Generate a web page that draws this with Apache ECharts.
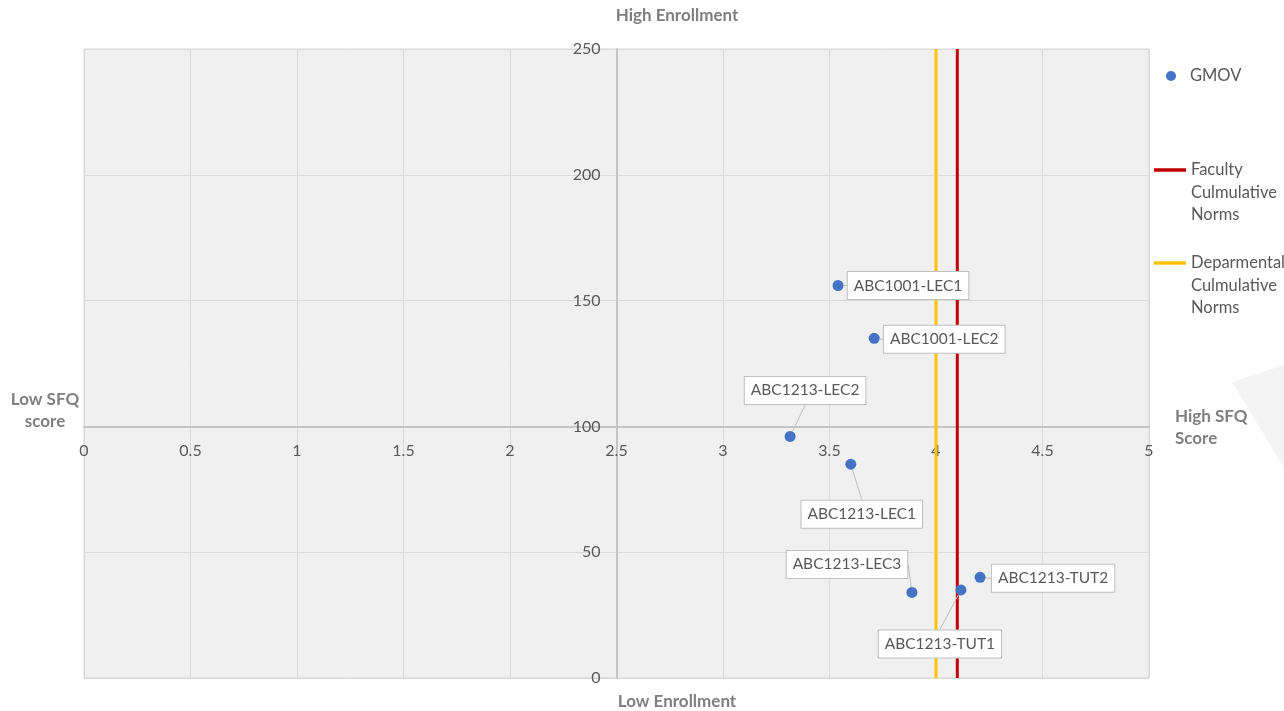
<!DOCTYPE html>
<html>
<head>
<meta charset="utf-8">
<script src="https://cdn.jsdelivr.net/npm/echarts@6/dist/echarts.min.js"></script>
<style>
  html, body { margin: 0; padding: 0; background: #ffffff; }
  #chart { width: 1284px; height: 711px; }
</style>
</head>
<body>
<div id="chart"></div>
<script>
// Course sections: SFQ score (x) against enrollment (y)
const courseCodes = ['ABC1001-LEC1', 'ABC1001-LEC2', 'ABC1213-LEC2', 'ABC1213-LEC1', 'ABC1213-LEC3', 'ABC1213-TUT1', 'ABC1213-TUT2'];
const sfqScores   = [3.54, 3.71, 3.315, 3.60, 3.887, 4.117, 4.207];
const enrollments = [156, 135, 96, 85, 34, 35, 40];

// Reference norms (vertical lines over the full enrollment range)
const facultyNorm = 4.1;
const departmentNorm = 4.0;
const enrollmentRange = [0, 250];

// Axis ticks
const xTicks = [0, 0.5, 1, 1.5, 2, 2.5, 3, 3.5, 4, 4.5, 5];
const yTicks = [0, 50, 100, 150, 200, 250];

const seriesNames = ['GMOV', 'Faculty Culmulative Norms', 'Deparmental Culmulative Norms'];

const FONT = 'Lato, "Liberation Sans", sans-serif';
const TEXT = '#595959';
const TITLE = '#7f7f7f';
const BLUE = '#4472c4', RED = '#c00000', GOLD = '#ffc000';

// Grid geometry in pixels; axes cross at SFQ 2.5 / enrollment 100
const grid = { left: 84, top: 49, width: 1065, height: 629 };
const xCross = 2.5, yCross = 100;
const xMin = xTicks[0], xMax = xTicks[xTicks.length - 1];
const yMin = yTicks[0], yMax = yTicks[yTicks.length - 1];
const yAxisOffset = -(xCross - xMin) / (xMax - xMin) * grid.width;
const xAxisOffset = -(yCross - yMin) / (yMax - yMin) * grid.height;

// Callout shifts for each section label (dx, dy)
const calloutShift = [[70, 0], [70, 1], [15, -46], [11, 50], [-65, -28], [-21, 54], [73, 1]];

const points = courseCodes.map((c, i) => ({ name: c, value: [sfqScores[i], enrollments[i]] }));

const chart = echarts.init(document.getElementById('chart'), null, { renderer: 'canvas' });

const legendText = { fontFamily: FONT, fontSize: 16.5, color: TEXT, lineHeight: 22.5 };
const legendBase = {
  orient: 'vertical',
  padding: 0,
  itemGap: 0,
  selectedMode: false,
  textStyle: legendText
};
const stackedName = n => '\n\n' + n.split(' ').join('\n');

chart.setOption({
  animation: false,
  backgroundColor: '#ffffff',
  textStyle: { fontFamily: FONT },
  grid: {
    left: grid.left, top: grid.top, width: grid.width, height: grid.height,
    show: true, backgroundColor: '#f0f0f0', borderColor: '#d9d9d9', borderWidth: 1
  },
  xAxis: {
    type: 'value', min: xMin, max: xMax, interval: xTicks[1] - xTicks[0],
    position: 'bottom', offset: xAxisOffset,
    axisLine: { show: true, onZero: false, lineStyle: { color: '#c4c4c4', width: 2 } },
    axisTick: { show: false },
    axisLabel: { color: TEXT, fontSize: 16, fontFamily: FONT, margin: 16 },
    splitLine: { show: true, lineStyle: { color: '#d9d9d9', width: 1 } }
  },
  yAxis: {
    type: 'value', min: yMin, max: yMax, interval: yTicks[1] - yTicks[0],
    position: 'left', offset: yAxisOffset,
    axisLine: { show: true, onZero: false, lineStyle: { color: '#c4c4c4', width: 2 } },
    axisTick: { show: false },
    axisLabel: { color: TEXT, fontSize: 16, fontFamily: FONT, margin: 16 },
    splitLine: { show: true, lineStyle: { color: '#d9d9d9', width: 1 } }
  },
  legend: [
    Object.assign({}, legendBase, {
      left: 1166, top: 64.75, itemWidth: 10, itemHeight: 10,
      textStyle: Object.assign({}, legendText, { padding: [0, 0, 0, 9] }),
      data: [{ name: seriesNames[0], icon: 'circle', itemStyle: { color: BLUE, opacity: 1 } }]
    }),
    Object.assign({}, legendBase, {
      left: 1154, top: 113.75, itemWidth: 32, itemHeight: 3.5,
      data: [{ name: seriesNames[1], icon: 'rect', itemStyle: { color: RED } }],
      formatter: stackedName
    }),
    Object.assign({}, legendBase, {
      left: 1154, top: 206.75, itemWidth: 32, itemHeight: 3.5,
      data: [{ name: seriesNames[2], icon: 'rect', itemStyle: { color: GOLD } }],
      formatter: stackedName
    })
  ],
  series: [
    {
      name: seriesNames[2], type: 'line', symbol: 'none', z: 2,
      lineStyle: { color: GOLD, width: 3 }, itemStyle: { color: GOLD },
      data: enrollmentRange.map(v => [departmentNorm, v])
    },
    {
      name: seriesNames[1], type: 'line', symbol: 'none', z: 2,
      lineStyle: { color: RED, width: 3 }, itemStyle: { color: RED },
      data: enrollmentRange.map(v => [facultyNorm, v])
    },
    {
      name: seriesNames[0], type: 'scatter', symbol: 'circle', symbolSize: 11, z: 3,
      itemStyle: { color: BLUE, opacity: 1 },
      data: points,
      label: {
        show: true, position: 'inside', formatter: '{b}', opacity: 1,
        fontFamily: FONT, fontSize: 15.5, color: TEXT,
        backgroundColor: '#ffffff', borderColor: '#bfbfbf', borderWidth: 1,
        padding: [6, 6, 5, 6]
      },
      labelLine: { show: true, lineStyle: { color: '#bfbfbf', width: 1, opacity: 1 } },
      labelLayout: p => ({ dx: calloutShift[p.dataIndex][0], dy: calloutShift[p.dataIndex][1] })
    }
  ],
  graphic: [
    {
      type: 'polygon', z: -1, silent: true,
      shape: { points: [[1232, 382], [1284, 365], [1284, 468]] },
      style: { fill: '#f4f4f4' }
    },
    {
      type: 'text', silent: true,
      style: { text: 'High Enrollment', x: 677, y: 16, align: 'center', verticalAlign: 'middle',
               font: 'bold 17px ' + FONT, fill: TITLE }
    },
    {
      type: 'text', silent: true,
      style: { text: 'Low Enrollment', x: 677, y: 702, align: 'center', verticalAlign: 'middle',
               font: 'bold 17px ' + FONT, fill: TITLE }
    },
    {
      type: 'text', silent: true,
      style: { text: 'Low SFQ\nscore', x: 45, y: 411, align: 'center', verticalAlign: 'middle',
               font: 'bold 17px ' + FONT, lineHeight: 22, fill: TITLE }
    },
    {
      type: 'text', silent: true,
      style: { text: 'High SFQ\nScore', x: 1175, y: 428, align: 'left', verticalAlign: 'middle',
               font: 'bold 17px ' + FONT, lineHeight: 22, fill: TITLE }
    }
  ]
});
</script>
</body>
</html>
